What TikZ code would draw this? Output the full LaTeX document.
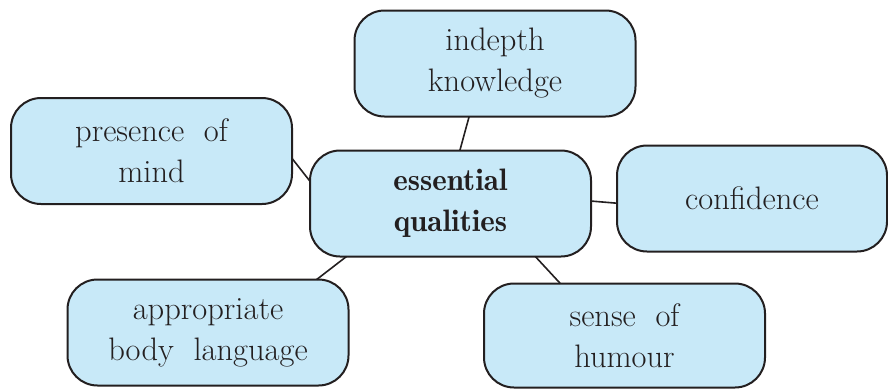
\documentclass[tikz,border=0pt]{standalone}
\definecolor{boxfill}{RGB}{200,233,248}
\definecolor{boxline}{RGB}{35,31,32}
\begin{document}
\begin{tikzpicture}[x=1pt,y=-1pt,
  quality/.style={draw=boxline,line width=2pt,fill=boxfill,rounded corners=30pt,
    minimum width=281pt,minimum height=106pt,align=center,text=boxline,
    font=\fontsize{32.5}{41}\selectfont,inner sep=0pt,outer sep=0pt},
  link/.style={draw=boxline,line width=1.6pt}]
\useasboundingbox (0,0) rectangle (888,389);
\node[quality] (ind) at (495,63.5) {indepth\\knowledge};
\node[quality] (pres) at (151.5,151) {presence\ \ of\\mind};
\node[quality,font=\fontsize{31}{41}\fontseries{b}\selectfont] (ess) at (450.5,203.5) {essential\\qualities};
\node[quality,minimum width=270pt] (conf) at (752,198.5) {confidence};
\node[quality] (app) at (208,332.5) {appropriate\\body\ \ language};
\node[quality,minimum height=104pt] (hum) at (624.5,335.5) {sense\ \ of\\humour};

\path [link] (ess.80) edge (ind.-116);
\path [link] (ess.171) edge (pres.-3);
\path [link] (ess.1) edge (conf.182);
\path [link] (ess.-153) edge (app.26);
\path [link] (ess.-32) edge (hum.141);
\end{tikzpicture}
\end{document}
